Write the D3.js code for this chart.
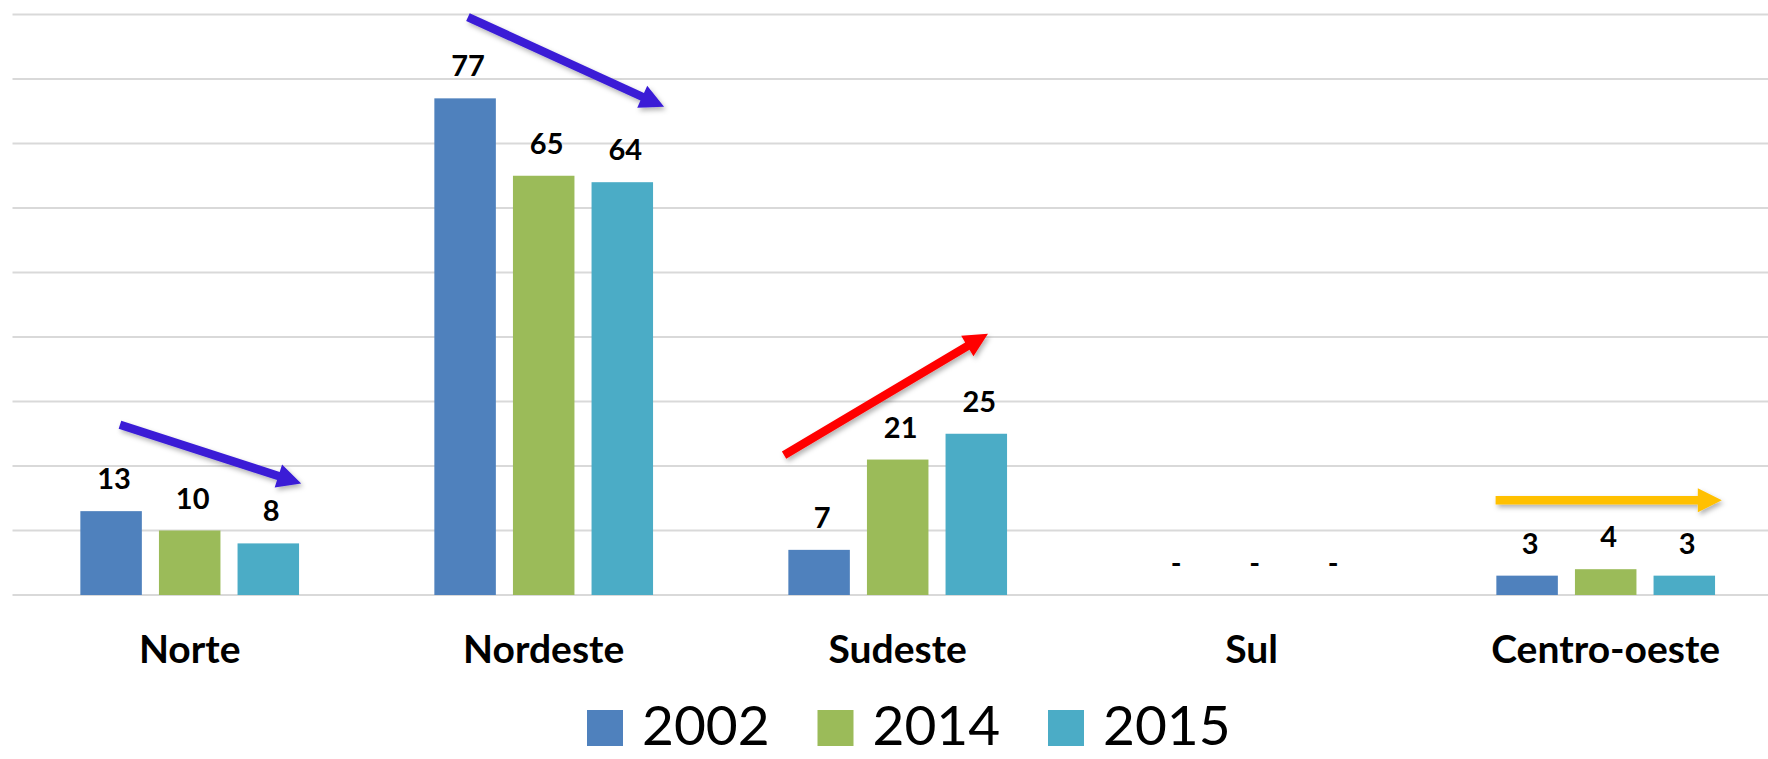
<!DOCTYPE html>
<html>
<head>
<meta charset="utf-8">
<script src="https://cdn.jsdelivr.net/npm/d3@7"></script>
<style>
  html, body { margin: 0; padding: 0; background: #fff; }
  svg { display: block; }
</style>
</head>
<body>
<div class="chart"></div>
<script>
// regions and series values
const regions = ["Norte", "Nordeste", "Sudeste", "Sul", "Centro-oeste"];
const years = ["2002", "2014", "2015"];
const values2002 = [13, 77, 7, 0, 3];
const values2014 = [10, 65, 21, 0, 4];
const values2015 = [8, 64, 25, 0, 3];
const yTicks = [0, 10, 20, 30, 40, 50, 60, 70, 80, 90];

// trend arrows: region, start/end as [offset in bands, value]
const trendArrows = [
  { region: "Norte", from: [-0.197, 26.4], to: [0.315, 17.3], color: "#3a1fd6" },
  { region: "Nordeste", from: [-0.214, 89.6], to: [0.34, 75.7], color: "#3a1fd6" },
  { region: "Sudeste", from: [-0.321, 21.7], to: [0.255, 40.5], color: "#ff0000" },
  { region: "Centro-oeste", from: [-0.311, 14.7], to: [0.328, 14.7], color: "#ffc000" }
];

const colors = { "2002": "#4f81bd", "2014": "#9bbb59", "2015": "#4bacc6" };
const series = { "2002": values2002, "2014": values2014, "2015": values2015 };

const width = 1768, height = 759;

const svg = d3.select(".chart").append("svg")
  .attr("width", width)
  .attr("height", height);

const defs = svg.append("defs");
defs.append("filter")
  .attr("id", "shadow")
  .attr("x", "-20%").attr("y", "-50%")
  .attr("width", "140%").attr("height", "200%")
  .append("feDropShadow")
  .attr("dx", 2).attr("dy", 3)
  .attr("stdDeviation", 2.5)
  .attr("flood-color", "#000")
  .attr("flood-opacity", 0.3);

const x0 = d3.scaleBand().domain(regions).range([12.7, 1782.7]).padding(0);
const groupW = 218.7;
const x1 = d3.scaleBand().domain(years)
  .range([(x0.bandwidth() - groupW) / 2, (x0.bandwidth() + groupW) / 2])
  .paddingInner(0.2175).paddingOuter(0);
const y = d3.scaleLinear().domain([0, 90]).range([595, 14.5]);

// gridlines
svg.append("g")
  .selectAll("line")
  .data(yTicks)
  .join("line")
  .attr("x1", 12.5)
  .attr("x2", width)
  .attr("y1", d => y(d))
  .attr("y2", d => y(d))
  .attr("stroke", "#d9d9d9")
  .attr("stroke-width", 2);

const rows = regions.map((region, i) => ({
  region,
  bars: years.map(year => ({ region, year, value: series[year][i] }))
}));

const groups = svg.append("g")
  .selectAll("g")
  .data(rows)
  .join("g")
  .attr("transform", d => `translate(${x0(d.region)},0)`);

groups.selectAll("rect")
  .data(d => d.bars)
  .join("rect")
  .attr("x", d => x1(d.year))
  .attr("width", x1.bandwidth())
  .attr("y", d => y(d.value))
  .attr("height", d => y(0) - y(d.value))
  .attr("fill", d => colors[d.year]);

groups.selectAll("text.val")
  .data(d => d.bars)
  .join("text")
  .attr("class", "val")
  .attr("x", d => x1(d.year) + x1.bandwidth() / 2 + 3)
  .attr("y", d => y(d.value) - 22)
  .attr("text-anchor", "middle")
  .attr("font-family", "Lato, sans-serif")
  .attr("font-weight", "bold")
  .attr("font-size", 29)
  .attr("fill", "#000")
  .text(d => d.value === 0 ? "-" : d.value);

// category labels
svg.append("g")
  .selectAll("text")
  .data(regions)
  .join("text")
  .attr("x", d => x0(d) + x0.bandwidth() / 2)
  .attr("y", 663)
  .attr("text-anchor", "middle")
  .attr("font-family", "Lato, sans-serif")
  .attr("font-weight", "bold")
  .attr("font-size", 39)
  .attr("fill", "#000")
  .text(d => d);

// trend arrows
function arrowPath(p0, p1, shaft, headLen, headW) {
  const dx = p1[0] - p0[0], dy = p1[1] - p0[1];
  const len = Math.hypot(dx, dy);
  const ux = dx / len, uy = dy / len;
  const nx = -uy, ny = ux;
  const bx = p1[0] - ux * headLen, by = p1[1] - uy * headLen;
  const pts = [
    [p0[0] + nx * shaft / 2, p0[1] + ny * shaft / 2],
    [bx + nx * shaft / 2, by + ny * shaft / 2],
    [bx + nx * headW / 2, by + ny * headW / 2],
    p1,
    [bx - nx * headW / 2, by - ny * headW / 2],
    [bx - nx * shaft / 2, by - ny * shaft / 2],
    [p0[0] - nx * shaft / 2, p0[1] - ny * shaft / 2]
  ];
  return "M" + pts.map(p => p.join(",")).join("L") + "Z";
}

const ax = (region, off) => x0(region) + x0.bandwidth() / 2 + off * x0.step();

svg.append("g")
  .selectAll("path")
  .data(trendArrows)
  .join("path")
  .attr("d", d => arrowPath(
    [ax(d.region, d.from[0]), y(d.from[1])],
    [ax(d.region, d.to[0]), y(d.to[1])],
    8.5, 24, 24))
  .attr("fill", d => d.color)
  .attr("filter", "url(#shadow)");

// legend
const legend = svg.append("g")
  .selectAll("g")
  .data(years)
  .join("g")
  .attr("transform", (d, i) => `translate(${587 + i * 230.5},0)`);

legend.append("rect")
  .attr("x", 0)
  .attr("y", 710)
  .attr("width", 36)
  .attr("height", 36)
  .attr("fill", d => colors[d]);

legend.append("text")
  .attr("x", 55)
  .attr("y", 745)
  .attr("font-family", "Lato, sans-serif")
  .attr("font-size", 55)
  .attr("fill", "#000")
  .text(d => d);
</script>
</body>
</html>
